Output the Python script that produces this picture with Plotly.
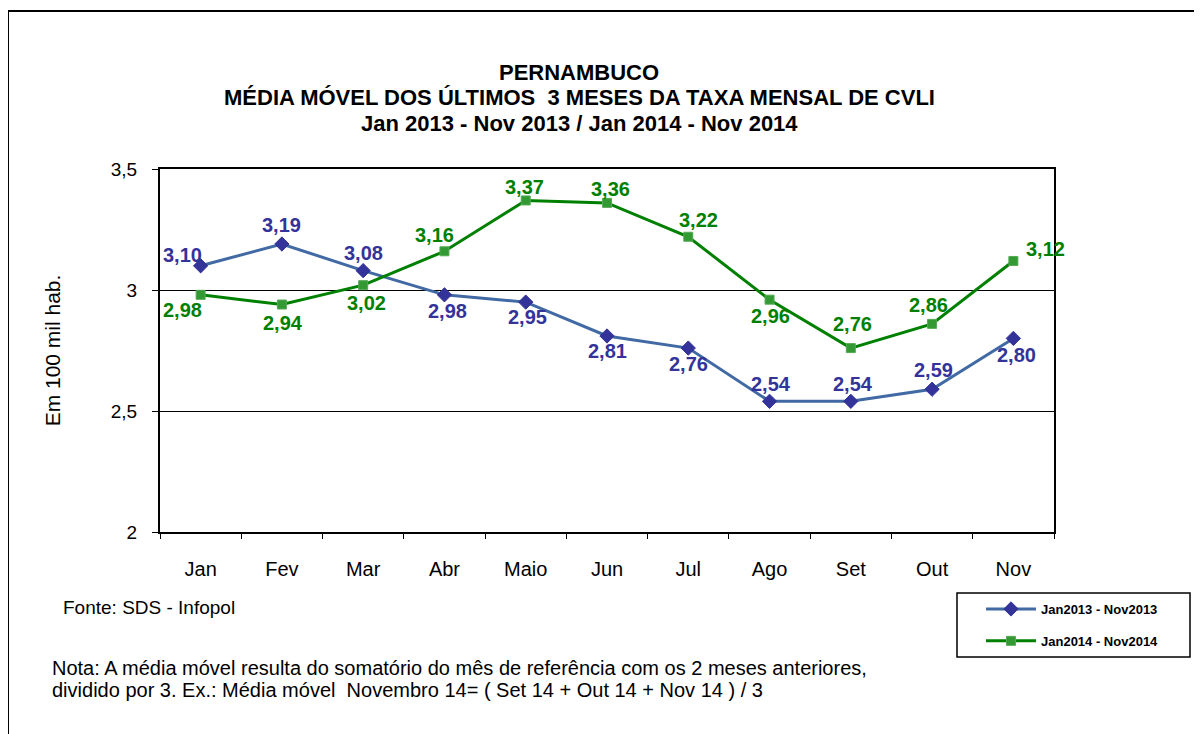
import plotly.graph_objects as go

months = ["Jan", "Fev", "Mar", "Abr", "Maio", "Jun", "Jul", "Ago", "Set", "Out", "Nov"]
serie_2013 = [3.10, 3.19, 3.08, 2.98, 2.95, 2.81, 2.76, 2.54, 2.54, 2.59, 2.80]
serie_2014 = [2.98, 2.94, 3.02, 3.16, 3.37, 3.36, 3.22, 2.96, 2.76, 2.86, 3.12]
name_2013 = "Jan2013 - Nov2013"
name_2014 = "Jan2014 - Nov2014"

# label offsets (pixels) for the data labels
dx_2013 = [-18, 0, 0, 3, 2, 0, 0, 1, 2, 1, 3]
dy_2013 = [11, 19, 18, -16, -15, -15, -16, 17, 17, 19, -17]
dx_2014 = [-18, 1, 3, -10, -1, 3, 10, 1, 2, -4, 32]
dy_2014 = [-15, -18, -18, 16, 13, 14, 17, -16, 24, 19, 12]

C13_LINE = "#4169A4"
C13_MARK = "#333399"
C14_LINE = "#008000"
C14_MARK = "#339933"
FONT = "Liberation Sans, Arial, sans-serif"

# page body has an 8px margin; compensate so the plot area lands where the reference has it
OFF = 8
W, H = 1202 - OFF, 734 - OFF
L, T = 160 - OFF, 169 - OFF
PW, PH = 894, 363


def px(xp):
    return (xp - 160) / PW


def py(yp):
    return (532 - yp) / PH


fig = go.Figure()
fig.add_trace(go.Scatter(
    x=months, y=serie_2013, name=name_2013, mode="lines+markers",
    line=dict(color=C13_LINE, width=3),
    marker=dict(symbol="diamond", size=11, color=C13_MARK, line=dict(color=C13_MARK, width=1)),
    legendgroup="a",
))
fig.add_trace(go.Scatter(
    x=months, y=serie_2014, name=name_2014, mode="lines+markers",
    line=dict(color=C14_LINE, width=3),
    marker=dict(symbol="square", size=9, color=C14_MARK, line=dict(color="#55AA55", width=1)),
    legendgroup="b",
))


def fmt(v):
    return f"{v:.2f}".replace(".", ",")


for vals, dxs, dys, col in [(serie_2013, dx_2013, dy_2013, C13_MARK),
                            (serie_2014, dx_2014, dy_2014, C14_LINE)]:
    for m, v, dx, dy in zip(months, vals, dxs, dys):
        fig.add_annotation(x=m, y=v, text=fmt(v), showarrow=False,
                           xshift=dx, yshift=dy,
                           font=dict(family=FONT, size=20, color=col, weight="bold"))

# title lines
title_lines = ["PERNAMBUCO",
               "MÉDIA MÓVEL DOS ÚLTIMOS  3 MESES DA TAXA MENSAL DE CVLI",
               "Jan 2013 - Nov 2013 / Jan 2014 - Nov 2014"]
for i, t in enumerate(title_lines):
    fig.add_annotation(xref="paper", yref="paper", x=px(579), y=py(72 + 26 * i),
                       text=t, showarrow=False, xanchor="center", yanchor="middle",
                       font=dict(family=FONT, size=22, color="black", weight="bold"))

fig.add_annotation(xref="paper", yref="paper", x=px(61), y=py(607),
                   text="Fonte: SDS - Infopol", showarrow=False, xanchor="left", yanchor="middle",
                   font=dict(family=FONT, size=19, color="black"))
note_lines = ["Nota: A média móvel resulta do somatório do mês de referência com os 2 meses anteriores,",
              "dividido por 3. Ex.: Média móvel  Novembro 14= ( Set 14 + Out 14 + Nov 14 ) / 3"]
for i, t in enumerate(note_lines):
    fig.add_annotation(xref="paper", yref="paper", x=px(50), y=py(668 + 22 * i),
                       text=t, showarrow=False, xanchor="left", yanchor="middle", align="left",
                       font=dict(family=FONT, size=20, color="black"))

# outer frame
fig.add_shape(type="rect", xref="paper", yref="paper",
              x0=px(8), x1=1.3, y0=-0.7, y1=py(11),
              line=dict(color="black", width=2))
# legend frame
fig.add_shape(type="rect", xref="paper", yref="paper",
              x0=px(957), x1=px(1190), y0=py(657), y1=py(593),
              line=dict(color="black", width=1.5))

fig.update_layout(
    width=W, height=H,
    margin=dict(l=L, r=W - L - PW, t=T, b=H - T - PH),
    paper_bgcolor="white", plot_bgcolor="white",
    separators=", ",
    showlegend=True,
    legend=dict(x=px(981), y=py(594), xanchor="left", yanchor="top",
                borderwidth=0, bgcolor="rgba(0,0,0,0)",
                font=dict(family=FONT, size=13, color="black", weight="bold"),
                itemwidth=50, traceorder="grouped", tracegroupgap=12),
    font=dict(family=FONT, color="black"),
)
fig.update_xaxes(type="category", range=[-0.5, 10.5], showline=True, linecolor="black", linewidth=2,
                 mirror=True, ticks="outside", tickson="boundaries", ticklen=5, tickcolor="black",
                 showgrid=False, tickfont=dict(family=FONT, size=20, color="black"),
                 ticklabelstandoff=18)
fig.update_yaxes(range=[2, 3.5], dtick=0.5, showline=True, linecolor="black", linewidth=2,
                 mirror=True, ticks="outside", ticklen=6, tickcolor="black",
                 showgrid=True, gridcolor="black", gridwidth=1, zeroline=False,
                 tickfont=dict(family=FONT, size=19, color="black"), ticklabelstandoff=11,
                 title=dict(text="Em 100 mil hab.", font=dict(family=FONT, size=21, color="black"),
                            standoff=44))

fig.write_html("out.html")
